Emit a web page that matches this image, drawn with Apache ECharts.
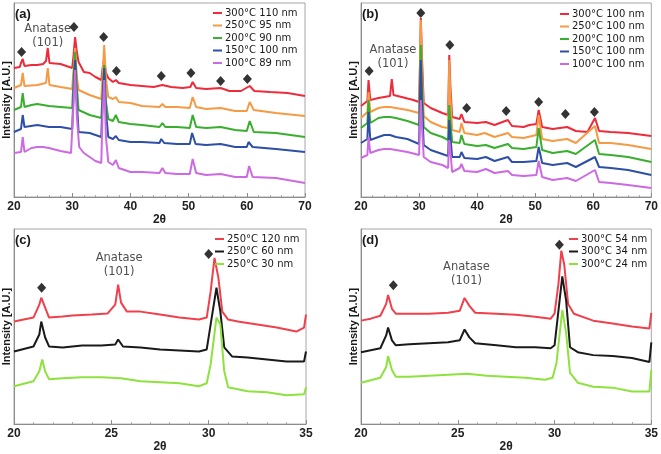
<!DOCTYPE html>
<html>
<head>
<meta charset="utf-8">
<script src="https://cdn.jsdelivr.net/npm/echarts@6/dist/echarts.min.js"></script>
<style>
html,body{margin:0;padding:0;background:#fff;}
#c{width:661px;height:454px;}
</style>
</head>
<body>
<div id="c"></div>
<script>
// ---------- Panel (a): 2theta vs intensity ----------
const a300 = [[20,129],[21,130],[21.2,134],[21.5,138],[21.8,131],[23,132],[24,132],[25,133],[25.5,136],[25.8,149],[26.1,134],[28,133],[29.5,130],[30,129],[30.2,140],[30.5,160],[30.8,145],[31.1,135],[32,125],[33,124],[34,120],[35,117],[35.2,128],[35.5,138],[35.8,124],[36.2,119],[37,115],[37.5,117],[38,114],[40,112],[42,111],[44,110],[45.5,112],[47,110],[49,109],[50.3,110],[50.7,115],[51.3,109],[53,108],[55.5,109],[57,106],[59,106],[60.5,111],[61.3,106],[64,105],[67,104],[70,101]];
const a250 = [[20,109],[21.2,112],[21.5,124],[21.8,111],[24,112],[25.5,114],[25.8,129],[26.1,112],[28,110],[30,108],[30.2,125],[30.5,149],[30.8,120],[31.1,107],[33,102],[35,98],[35.2,120],[35.5,152],[35.8,118],[36.2,100],[37,98],[37.5,100],[38,95],[40,94],[42,91],[45,90],[45.5,93],[46,90],[48,90],[50.2,89],[50.7,100],[51.3,90],[53,88],[55.5,89],[58,86],[60,86],[60.5,95],[61.2,87],[65,84],[70,81]];
const a200 = [[20,87],[21.2,90],[21.5,104],[21.8,90],[23,92],[24,93],[25,92],[26,91],[28,90],[30,89],[30.2,115],[30.5,145],[30.8,110],[31.1,87],[33,82],[35,79],[35.2,100],[35.5,132],[35.8,95],[36.2,78],[37,76],[37.5,82],[38,75],[40,73],[42,72],[45,70],[45.5,74],[46,70],[48,70],[50.2,69],[50.7,82],[51.3,70],[53,69],[55.5,70],[58,67],[60,66],[60.5,76],[61.2,65],[65,64],[70,60]];
const a150 = [[20,65],[21.2,68],[21.5,82],[21.8,70],[24,72],[26,70],[28,70],[30,68],[30.2,100],[30.5,137],[30.8,95],[31.1,65],[33,64],[35,60],[35.2,95],[35.5,129],[35.8,85],[36.2,60],[37,58],[37.5,61],[38,57],[40,55],[42,55],[45,54],[45.3,58],[45.8,54],[48,53],[50.2,53],[50.6,64],[51.2,53],[53,52],[55.5,53],[58,50],[60,50],[60.3,55],[61,50],[65,48],[70,45]];
const a100 = [[20,44],[21.2,45],[21.5,60],[21.8,45],[23,49],[24,50],[25,50],[26,49],[28,46],[29.8,44],[30.2,90],[30.5,127],[30.8,80],[31.2,50],[32,44],[34,36],[35,34],[35.2,80],[35.5,117],[35.8,60],[36.2,35],[37,32],[37.5,37],[38,29],[40,25],[42,25],[45,24],[45.5,29],[46,24],[48,23],[50.2,23],[50.7,38],[51.3,24],[53,22],[55.5,23],[58,20],[60,20],[60.4,31],[61,20],[65,19],[70,14]];
const aDiamonds = [[21.3,145],[30.3,170],[35.4,160],[37.6,126],[45.3,121],[50.4,124],[55.5,116],[60.1,118]];
const aAnatase = [25.8,161];

// ---------- Panel (b) ----------
const b300 = [[20,91],[21.1,96],[21.3,117],[21.6,97],[23,99],[24,100],[25,101],[25.3,118],[25.6,102],[27,100],[29,97],[30,95],[30.15,130],[30.3,179],[30.5,140],[30.8,94],[32,89],[34,84],[35,82],[35.1,110],[35.2,142],[35.4,110],[35.7,80],[37,78],[37.3,83],[37.8,75],[40,74],[41.5,75],[43,72],[45.3,77],[46,71],[48,70],[49,72],[50.2,73],[50.6,87],[51.2,70],[53,68],[55.5,70],[57,66],[59,65],[60.3,79],[61,66],[63,65],[66,64],[70,61]];
const b250 = [[20,79],[21.1,85],[21.3,105],[21.6,85],[23,89],[24,90],[25,90],[26,89],[28,87],[30,84],[30.15,130],[30.3,177],[30.5,130],[30.8,81],[32,75],[34,70],[35,69],[35.1,100],[35.2,137],[35.4,100],[35.7,67],[37,65],[37.3,74],[37.8,64],[40,62],[41.3,64],[43,60],[45.3,64],[46,60],[48,59],[50.2,62],[50.6,82],[51.2,58],[53,56],[55.5,58],[57,54],[60.3,71],[61,54],[63,54],[66,52],[70,48]];
const b200 = [[20,69],[21.1,74],[21.3,97],[21.6,74],[23,79],[24,80],[25,80],[26,79],[28,76],[30,72],[30.15,110],[30.3,152],[30.5,110],[30.8,70],[32,64],[34,60],[35,57],[35.1,75],[35.2,92],[35.4,75],[35.7,55],[37,54],[37.3,62],[37.8,53],[40,51],[41.5,52],[43,49],[45.3,53],[46,49],[48,48],[50.2,50],[50.6,69],[51.2,47],[53,44],[55.5,46],[57,43],[60.3,57],[61,43],[63,42],[66,40],[70,35]];
const b150 = [[20,54],[21.1,58],[21.3,85],[21.6,57],[23,60],[24,62],[25,62],[26,60],[28,58],[30,53],[30.15,95],[30.3,137],[30.5,95],[30.8,52],[32,47],[34,43],[35,41],[35.1,60],[35.2,77],[35.4,60],[35.7,40],[37,40],[37.3,45],[37.8,39],[40,38],[41.5,40],[43,36],[45.3,40],[46,35],[48,35],[50.2,36],[50.6,50],[51.2,34],[53,32],[55.5,34],[57,30],[60.3,40],[61,30],[63,29],[66,27],[70,22]];
const b100 = [[20,39],[21.1,42],[21.3,60],[21.6,44],[23,47],[24,48],[25,48],[26,47],[28,45],[30,42],[30.15,70],[30.3,97],[30.5,70],[30.8,40],[32,35],[34,32],[35,29],[35.1,45],[35.2,57],[35.4,45],[35.7,25],[37,29],[37.3,33],[37.8,26],[40,25],[41.5,28],[43,24],[45.3,26],[46,22],[48,21],[50.2,22],[50.6,36],[51.2,20],[53,17],[55.5,19],[57,16],[60.3,27],[61,15],[63,14],[66,12],[70,9]];
const bDiamonds = [[21.4,126],[30.3,184],[35.3,152],[38.2,89],[45.0,86],[50.6,95],[55.2,83],[60.2,85]];
const bAnatase = [25.5,140];

// ---------- Panel (c) ----------
const c120 = [[20,103],[20.5,105],[21,107],[21.3,120],[21.4,127],[21.6,117],[21.8,107],[22.5,108],[23,109],[24,110],[24.8,111],[25.2,120],[25.35,140],[25.5,122],[25.8,113],[26.5,113],[27.5,110],[28.5,107],[29.5,105],[29.9,107],[30.1,133],[30.3,167],[30.5,147],[30.7,113],[31,105],[31.5,103],[32.5,100],[33.5,97],[34.5,93],[34.9,97],[35,110]];
const c60 = [[20,73],[21,78],[21.3,90],[21.4,103],[21.6,87],[21.8,78],[22.5,77],[23.5,79],[24.5,79],[25.2,80],[25.35,85],[25.6,78],[26.5,77],[27.5,75],[28.5,74],[29.5,73],[29.9,75],[30.1,100],[30.4,137],[30.6,113],[30.8,77],[31.2,68],[32,67],[33,65],[34,63],[34.9,63],[35,73]];
const c30 = [[20,38],[21,43],[21.3,53],[21.45,65],[21.6,53],[21.8,45],[22.5,46],[23.5,47],[24.5,47],[25.5,46],[26.5,43],[27.5,42],[28.5,41],[29.5,38],[29.9,41],[30.1,60],[30.4,107],[30.6,100],[30.8,53],[31,37],[32,33],[33,32],[34,29],[34.9,30],[35,37]];
const cDiamonds = [[21.42,137],[30.0,171]];
const cAnatase = [25.4,160];

// ---------- Panel (d) ----------
const d54 = [[20,105],[20.5,107],[21,110],[21.3,122],[21.4,131],[21.6,117],[21.8,112],[22.5,112],[23.5,112],[24.5,113],[25.1,115],[25.35,128],[25.6,120],[25.9,113],[27,112],[28,111],[29,109],[29.8,107],[30,112],[30.2,142],[30.35,176],[30.5,162],[30.7,122],[31,112],[32,105],[33,102],[34,99],[34.9,97],[35,113]];
const d34 = [[20,73],[21,77],[21.3,90],[21.4,98],[21.6,85],[21.8,80],[22.5,81],[23.5,82],[24.5,83],[25.1,85],[25.35,96],[25.6,88],[25.9,82],[27,80],[28,78],[29,78],[29.8,77],[30,80],[30.2,115],[30.4,150],[30.6,125],[30.8,78],[31.2,73],[32,70],[33,69],[34,67],[34.9,63],[35,83]];
const d24 = [[20,42],[21,47],[21.3,58],[21.4,69],[21.6,55],[21.8,48],[22.5,48],[23.5,49],[24.5,50],[25.5,51],[26.5,49],[27.5,48],[28.5,47],[29.5,45],[29.9,47],[30.1,62],[30.4,116],[30.6,92],[30.8,52],[31.2,42],[32,38],[33,37],[34,33],[34.9,33],[35,55]];
const dDiamonds = [[21.67,141],[30.25,182]];
const dAnatase = [25.45,152];

// names
const namesA = ['300°C 110 nm','250°C 95 nm','200°C 90 nm','150°C 100 nm','100°C 89 nm'];
const namesB = ['300°C 100 nm ','250°C 100 nm','200°C 100 nm','150°C 100 nm ','100°C 100 nm'];
const namesC = ['250°C 120 nm','250°C 60 nm','250°C 30 nm'];
const namesD = ['300°C 54 nm','300°C 34 nm','300°C 24 nm'];

const colors5 = ['#ee2b3b','#f59a45','#3aae2e','#2d4fa6','#cc6ae2'];
const colors3 = ['#f0404c','#1a1a1a','#8ee23e'];

const chart = echarts.init(document.getElementById('c'), null, {renderer:'canvas'});

const grids = [
  {left:13, top:3, width:292, height:194},
  {left:361, top:3, width:291, height:194},
  {left:13, top:229, width:293, height:196},
  {left:361, top:229, width:292, height:198}
];
const xr = [[20,70,10],[20,70,10],[20,35,5],[20,35,5]];
const ymax = [194,194,196,198];

const axisFont = 'Liberation Sans, Arial, sans-serif';
const textFont = 'DejaVu Sans, sans-serif';

const xAxes = xr.map((r,i)=>({
  type:'value', gridIndex:i, min:r[0], max:r[1], interval:r[2],
  name:'2θ', nameLocation:'middle', nameGap:15,
  nameTextStyle:{fontFamily:axisFont, fontWeight:'bold', fontSize:12, color:'#222', verticalAlign:'top'},
  axisLine:{show:true, lineStyle:{color:'#8c8c8c'}},
  axisTick:{show:true, inside:true, length:4, lineStyle:{color:'#8c8c8c'}},
  minorTick:{show:true, splitNumber:5, length:2, lineStyle:{color:'#aaa'}},
  splitLine:{show:false},
  axisLabel:{fontFamily:axisFont, fontWeight:'bold', fontSize:12, color:'#222', margin:4}
}));
const yAxes = ymax.map((m,i)=>({
  type:'value', gridIndex:i, min:0, max:m,
  name:'Intensity [A.U.]', nameLocation:'middle', nameGap:2,
  nameTextStyle:{fontFamily:axisFont, fontWeight:'bold', fontSize:11, color:'#1a1a1a'},
  axisLine:{show:true, lineStyle:{color:'#8c8c8c'}},
  axisTick:{show:false}, axisLabel:{show:false}, splitLine:{show:false}
}));

function line(name, data, color, gi){
  return {type:'line', name, data, xAxisIndex:gi, yAxisIndex:gi, symbol:'none', showSymbol:false,
    lineStyle:{color, width:2}, itemStyle:{color}, animation:false, silent:true};
}
function diamonds(data, gi){
  return {type:'scatter', data, xAxisIndex:gi, yAxisIndex:gi, symbol:'diamond', symbolSize:[9,10],
    itemStyle:{color:'#000'}, z:5, animation:false, silent:true};
}
function anatase(pt, gi){
  return {type:'scatter', data:[pt], xAxisIndex:gi, yAxisIndex:gi, symbolSize:0, z:6, silent:true, animation:false,
    label:{show:true, position:'inside', formatter:'Anatase\n(101)', fontFamily:textFont, fontSize:11.5, lineHeight:14, color:'#222'}};
}

const series = [];
[a300,a250,a200,a150,a100].forEach((d,i)=>series.push(line(namesA[i], d, colors5[i], 0)));
[b300,b250,b200,b150,b100].forEach((d,i)=>series.push(line(namesB[i], d, colors5[i], 1)));
[c120,c60,c30].forEach((d,i)=>series.push(line(namesC[i], d, colors3[i], 2)));
[d54,d34,d24].forEach((d,i)=>series.push(line(namesD[i], d, colors3[i], 3)));
series.push(diamonds(aDiamonds,0), diamonds(bDiamonds,1), diamonds(cDiamonds,2), diamonds(dDiamonds,3));
series.push(anatase(aAnatase,0), anatase(bAnatase,1), anatase(cAnatase,2), anatase(dAnatase,3));

function legend(names, left, top){
  return {data:names, left, top, orient:'vertical', icon:'rect', itemWidth:9, itemHeight:2, itemGap:0.5,
    textStyle:{fontFamily:textFont, fontSize:10, color:'#1a1a1a', lineHeight:12, padding:[0,0,0,-2]}, padding:0, selectedMode:false};
}

const titles = [['(a)',15,8],['(b)',362,8],['(c)',15,234],['(d)',362,234]].map(t=>({
  text:t[0], left:t[1], top:t[2], padding:0,
  textStyle:{fontFamily:axisFont, fontWeight:'bold', fontSize:13, color:'#1a1a1a'}
}));

chart.setOption({
  animation:false,
  backgroundColor:'#fff',
  title:titles,
  grid:grids.map(g=>Object.assign({show:true, borderColor:'#a6a6a6', borderWidth:1, backgroundColor:'transparent'}, g)),
  xAxis:xAxes, yAxis:yAxes,
  legend:[legend(namesA,213,7), legend(namesB,560,8), legend(namesC,215,233), legend(namesD,569,233)],
  series
});
</script>
</body>
</html>
